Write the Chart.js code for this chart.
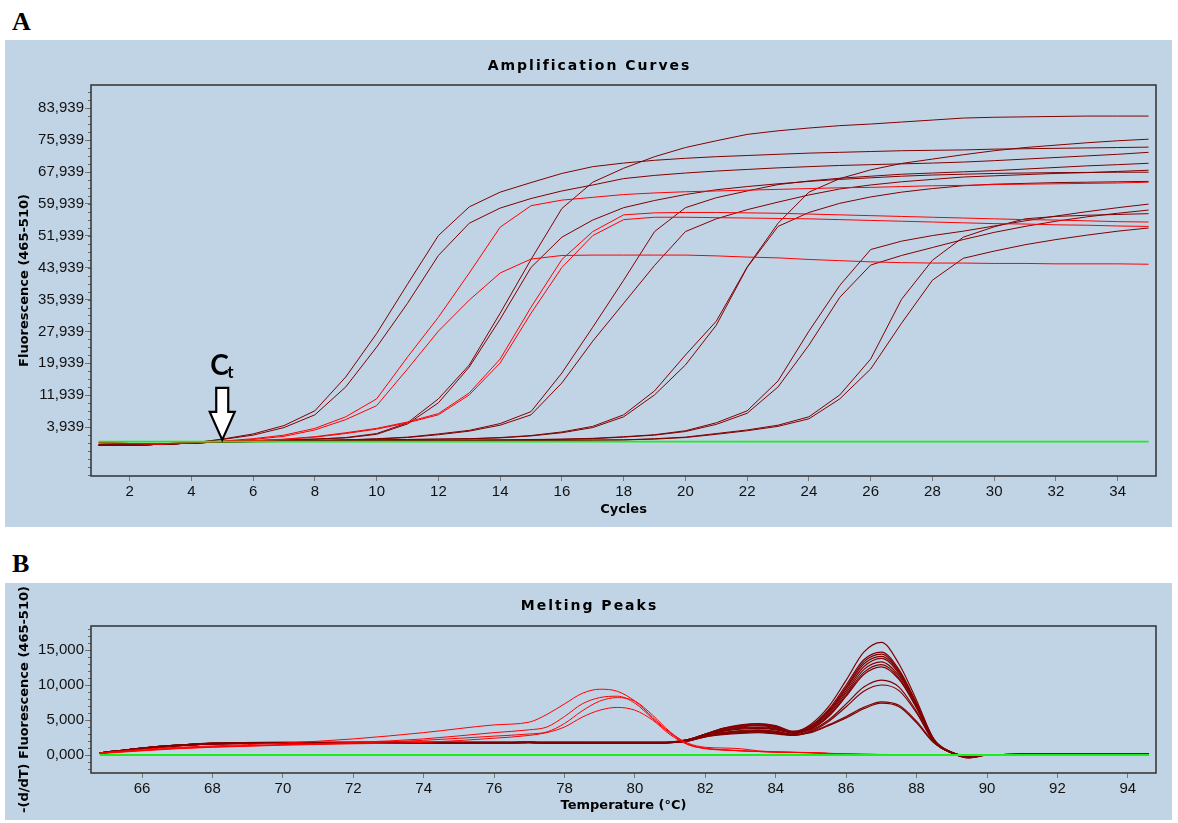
<!DOCTYPE html>
<html>
<head>
<meta charset="utf-8">
<title>Amplification Curves / Melting Peaks</title>
<script src="https://cdn.jsdelivr.net/npm/chart.js"></script>
<style>
  body { margin: 0; background: #fff; width: 1178px; height: 823px; position: relative; overflow: hidden; }
  .panel { position: absolute; left: 5px; width: 1167px; background: #c1d4e5; }
  .panel canvas { display: block; }
  #panelA { top: 40px; height: 487px; }
  #panelB { top: 583px; height: 237px; }
  .tag { position: absolute; left: 12px; font: bold 26px "Liberation Serif", serif; line-height: 30px; }
</style>
</head>
<body>
<div class="tag" style="top:7px">A</div>
<div class="panel" id="panelA"><canvas id="ampChart" width="1167" height="487"></canvas></div>
<div class="tag" style="top:549px">B</div>
<div class="panel" id="panelB"><canvas id="meltChart" width="1167" height="237"></canvas></div>

<script>
// ---------- A: amplification curves, fluorescence per cycle ----------
const cycles = [1,2,3,4,5,6,7,8,9,10,11,12,13,14,15,16,17,18,19,20,21,22,23,24,25,26,27,28,29,30,31,32,33,34,35];

const ampG1a = [-600,-650,-400,-100,900,2200,4300,8000,16500,27400,39800,52000,59200,62900,65300,67600,69300,70200,70900,71400,71800,72100,72400,72700,72900,73100,73300,73400,73500,73700,73800,73900,74000,74100,74200];
const ampG1b = [-600,-650,-400,-100,800,1900,3800,7000,14000,24000,35000,47000,55100,58900,61300,63200,64700,66300,67100,67700,68200,68600,69000,69300,69600,69800,70000,70200,70450,70800,71200,71600,72000,72400,72900];
const ampG2a = [0,-200,-300,0,400,1000,1900,3600,6500,11000,21500,31500,42600,54100,59500,60900,61600,62300,62700,63000,63200,63400,63600,63800,64000,64100,64300,64500,64600,64800,64900,65000,65100,65200,65400];
const ampG2b = [0,-200,-300,0,300,800,1600,3200,5800,9300,18500,28000,35800,42600,46100,47000,47100,47100,47100,47100,46900,46600,46400,46000,45700,45400,45200,45100,45100,45000,45000,44900,44900,44900,44800];
const ampG3a = [-600,-650,-400,-100,300,500,700,900,1300,2300,5000,11000,19500,32500,46000,58800,65400,68900,71800,74100,75800,77400,78300,79000,79600,80000,80500,81000,81500,81700,81800,81900,82000,82000,82000];
const ampG3b = [-600,-650,-400,-100,300,500,700,900,1200,2100,4700,10000,19000,31000,44000,51600,55900,59000,60800,62300,63500,64300,65000,65600,66100,66500,66900,67200,67400,67600,67700,67800,67850,67900,67900];
const ampG4a = [0,-200,-300,100,300,500,900,1500,2500,3600,5200,7300,12500,21000,34000,46000,53000,57200,57700,57800,57800,57700,57600,57400,57200,57000,56800,56600,56400,56200,56000,55900,55700,55500,55400];
const ampG4b = [0,-200,-300,100,300,500,800,1400,2300,3400,5000,7000,12000,20000,32500,44000,52000,56000,56600,56600,56500,56400,56300,56200,56000,55800,55600,55400,55200,55000,54900,54700,54600,54400,54300];
const ampG5a = [-600,-650,-400,-100,300,400,500,600,700,1000,1400,2200,3100,4800,7800,17500,29000,40800,53000,59000,61500,63200,64800,65700,66400,66900,67400,67700,68000,68300,68700,69100,69500,69800,70150];
const ampG5b = [-600,-650,-400,-100,300,400,500,600,700,900,1300,2000,2900,4400,7000,15000,25500,35000,44500,53000,56200,58500,60400,62200,63700,64700,65500,66100,66700,67000,67300,67600,67800,68100,68400];
const ampG6a = [-600,-650,-400,-100,200,300,400,500,600,700,800,900,1000,1300,1800,2700,4100,7000,13000,22000,30500,44100,55100,62900,66300,68500,70100,71200,72300,73300,74100,74700,75300,75800,76200];
const ampG6b = [-600,-650,-400,-100,200,300,400,500,600,700,800,900,1000,1200,1700,2500,3800,6500,12000,19500,29500,44000,54300,57800,60100,61700,62900,63800,64500,64900,65100,65300,65400,65500,65600];
const ampG7a = [-600,-650,-400,-100,200,300,350,400,450,500,550,600,650,700,800,900,1100,1500,2000,3000,5000,8000,15500,28000,39500,48500,50600,52000,53100,54400,55700,56900,58000,59000,59900];
const ampG7b = [-600,-650,-400,-100,200,300,350,400,450,500,550,600,650,700,750,850,1000,1400,1900,2800,4600,7400,14000,24500,36500,44600,47000,49000,51000,52800,54300,55600,56700,57600,58400];
const ampG8a = [-600,-650,-400,-100,200,250,300,350,400,400,450,450,500,500,550,600,650,700,1000,1400,2300,3200,4400,6500,12000,21000,36000,45800,51600,54200,56200,56800,57100,57300,57500];
const ampG8b = [-600,-650,-400,-100,200,250,300,350,400,400,450,450,500,500,550,600,650,700,900,1300,2100,3000,4100,6000,11000,18500,30000,40800,46300,48100,49700,51000,52100,53100,53900];

const ampRed = [ampG2a, ampG2b, ampG4a, ampG4b];
const ampDark = [ampG1a, ampG1b, ampG3a, ampG3b, ampG5a, ampG5b, ampG6a, ampG6b, ampG7a, ampG7b, ampG8a, ampG8b];

const ampGreenX = [1, 35];
const ampGreenY = [250, 250];

const ampXTicks = [2,4,6,8,10,12,14,16,18,20,22,24,26,28,30,32,34];
const ampYTicks = [3939,11939,19939,27939,35939,43939,51939,59939,67939,75939,83939];
const ctCycle = 5;
const ctValue = 700;

// ---------- B: melting peaks, -(d/dT) fluorescence per temperature ----------
const temps = [64.8,66,67,68,70,72,74,76,77,77.5,78,78.5,79,79.5,80,80.5,81,81.5,82,82.5,83,83.5,84,84.5,85,85.5,86,86.5,87,87.5,88,88.5,89,89.5,90,91,93,94.6];

const meltD1  = [300,1000,1400,1650,1750,1750,1750,1750,1800,1750,1750,1750,1750,1750,1750,1750,1800,2100,2800,3400,3800,3900,3700,3300,4400,6900,10700,14700,16100,13000,7800,2200,300,-300,0,100,100,100];
const meltD2  = [300,950,1350,1600,1700,1800,1800,1800,1850,1800,1800,1800,1800,1800,1800,1800,1850,2200,3000,3800,4300,4500,4200,3400,4200,6500,10000,13600,14700,12200,7400,2200,400,-200,0,100,100,100];
const meltD3  = [250,900,1300,1600,1700,1700,1750,1750,1800,1750,1750,1750,1700,1700,1700,1700,1750,2100,2900,3600,4000,4200,3900,3200,4100,6300,9700,13300,14400,12000,7300,2100,300,-400,0,100,100,100];
const meltD4  = [300,1000,1400,1700,1800,1800,1800,1800,1800,1800,1800,1800,1800,1800,1800,1800,1850,2200,3000,3700,4100,4300,4000,3300,4000,6200,9500,13000,14100,11800,7200,2100,300,-300,0,100,100,100];
const meltD5  = [250,950,1350,1600,1700,1700,1700,1700,1750,1700,1700,1700,1700,1700,1700,1700,1750,2000,2700,3200,3500,3600,3400,3000,3900,6000,9200,12600,13800,11600,7100,2000,300,-300,0,100,100,100];
const meltD6  = [300,1000,1400,1650,1750,1800,1800,1800,1850,1800,1800,1800,1800,1800,1800,1800,1800,2100,2800,3500,3900,4000,3800,3200,3800,5800,8900,12200,13300,11300,7000,2000,400,-200,0,100,100,100];
const meltD7  = [250,900,1300,1600,1700,1750,1750,1750,1800,1750,1750,1750,1750,1750,1750,1750,1800,2200,3000,3800,4200,4400,4100,3300,3700,5600,8600,11800,12900,11000,6800,1900,300,-300,0,100,100,100];
const meltD8  = [300,1000,1400,1700,1800,1800,1800,1800,1800,1800,1800,1800,1800,1800,1800,1800,1800,2100,2800,3400,3700,3800,3600,3100,3700,5500,8400,11500,12600,10800,6700,1900,300,-400,0,100,100,100];
const meltD9  = [250,950,1350,1600,1700,1700,1700,1700,1750,1700,1700,1700,1700,1700,1700,1700,1750,2000,2600,3000,3200,3300,3100,2800,3500,5000,7300,9700,10700,9700,6200,1900,400,-200,0,100,100,100];
const meltD10 = [300,1000,1400,1650,1750,1750,1750,1750,1800,1750,1750,1750,1750,1750,1750,1750,1800,2000,2700,3200,3400,3500,3300,2900,3400,4800,6900,9100,10000,9200,6000,1800,300,-300,0,100,100,100];
const meltD11 = [250,900,1300,1600,1700,1700,1700,1700,1750,1700,1700,1700,1700,1700,1700,1700,1750,2000,2600,2900,3100,3200,3000,2800,3300,4300,5500,6800,7600,7100,4800,1800,400,-200,0,100,100,100];
const meltD12 = [300,950,1350,1650,1750,1750,1750,1750,1800,1750,1750,1750,1750,1750,1750,1750,1800,2000,2700,3100,3300,3400,3200,2900,3200,4200,5300,6600,7400,6900,4600,1700,300,-300,0,100,100,100];

const meltR1 = [300,800,1100,1300,1700,2300,3200,4300,4700,5800,7300,8800,9400,9100,7700,5400,3200,1700,1100,1000,900,600,450,400,350,250,150,100,80,60,50,40,30,20,0,0,0,0];
const meltR2 = [250,700,1000,1200,1500,1800,2300,3200,3600,4000,5500,7300,8200,8400,7400,5200,3100,1500,950,750,600,500,420,370,320,220,130,90,70,50,40,30,20,10,0,0,0,0];
const meltR3 = [250,650,950,1150,1450,1700,2100,2700,3000,3300,4500,6300,7700,8200,7700,5700,3300,1600,950,750,600,500,420,370,320,220,130,90,70,50,40,30,20,10,0,0,0,0];
const meltR4 = [200,600,900,1100,1400,1600,1800,2400,2800,3200,4000,5400,6400,6800,6400,5000,2900,1500,900,700,600,500,420,370,320,220,130,90,70,50,40,30,20,10,0,0,0,0];

const meltDark = [meltD1, meltD2, meltD3, meltD4, meltD5, meltD6, meltD7, meltD8, meltD9, meltD10, meltD11, meltD12];
const meltRed = [meltR1, meltR2, meltR3, meltR4];

const meltGreenX = [64.8, 94.6];
const meltGreenY = [0, 0];

const meltXTicks = [66,68,70,72,74,76,78,80,82,84,86,88,90,92,94];
const meltYTicks = [0,5000,10000,15000];

// ---------- drawing ----------
const DARK = '#800000', RED = '#ff0000', GREEN = '#19f019';
const TICK_FONT = { family: 'Liberation Sans', size: 15 };

function series(xs, ys, color, width, smooth) {
    return {
        data: xs.map((x, i) => ({ x: x, y: ys[i] })),
        borderColor: color,
        borderWidth: width,
        pointRadius: 0,
        fill: false,
        tension: 0,
        cubicInterpolationMode: smooth ? 'monotone' : 'default'
    };
}

// titles and axis titles (drawn here so the long y title is not squeezed)
const panelText = {
    id: 'panelText',
    afterDraw(chart, args, o) {
        const { ctx, chartArea: a, width } = chart;
        ctx.save();
        ctx.fillStyle = '#000';
        ctx.textAlign = 'center';
        ctx.textBaseline = 'middle';
        ctx.font = 'bold 14px "DejaVu Sans"';
        ctx.letterSpacing = '2px';
        ctx.fillText(o.title, width / 2 + 1, o.titleY);
        ctx.letterSpacing = '0px';
        ctx.font = 'bold 13px "DejaVu Sans"';
        ctx.fillText(o.xTitle, (a.left + a.right) / 2, o.xTitleY);
        ctx.translate(o.yTitleX, (a.top + a.bottom) / 2);
        ctx.rotate(-Math.PI / 2);
        ctx.fillText(o.yTitle, 0, 0);
        ctx.restore();
    }
};

// small ticks between the labelled ones + frame round the plot
const frameAndMinor = {
    id: 'frameAndMinor',
    afterDraw(chart, args, o) {
        const { ctx, chartArea: a } = chart;
        const y = chart.scales.y;
        ctx.save();
        ctx.strokeStyle = '#666';
        ctx.lineWidth = 1;
        ctx.beginPath();
        for (let v = o.start; v <= y.max; v += o.step) {
            if (v < y.min) continue;
            const p = Math.round(y.getPixelForValue(v)) + 0.5;
            ctx.moveTo(a.left - 3, p);
            ctx.lineTo(a.left, p);
        }
        ctx.stroke();
        ctx.strokeStyle = '#3a3a3a';
        ctx.lineWidth = 1.6;
        ctx.strokeRect(a.left, a.top, a.right - a.left, a.bottom - a.top);
        ctx.restore();
    }
};

// Ct arrow, anchored on the data scale
const ctMarker = {
    id: 'ctMarker',
    afterDatasetsDraw(chart, args, o) {
        if (!o.show) return;
        const { ctx, scales: { x, y } } = chart;
        const tx = x.getPixelForValue(ctCycle), ty = y.getPixelForValue(ctValue);
        ctx.save();
        ctx.beginPath();
        ctx.moveTo(tx, ty);
        ctx.lineTo(tx - 12.5, ty - 28);
        ctx.lineTo(tx - 6, ty - 28);
        ctx.lineTo(tx - 6, ty - 52);
        ctx.lineTo(tx + 6, ty - 52);
        ctx.lineTo(tx + 6, ty - 28);
        ctx.lineTo(tx + 12.5, ty - 28);
        ctx.closePath();
        ctx.fillStyle = '#fff';
        ctx.fill();
        ctx.lineWidth = 2.2;
        ctx.strokeStyle = '#000';
        ctx.stroke();
        ctx.fillStyle = '#000';
        ctx.textBaseline = 'alphabetic';
        ctx.font = 'bold 28px Lato';
        ctx.fillText('C', tx - 12, ty - 65);
        ctx.font = 'bold 17px Lato';
        ctx.fillText('t', tx + 5, ty - 62);
        ctx.restore();
    }
};

function fmt(v) {
    return v === 0 ? '0,000' : v.toLocaleString('en-US');
}

function makeChart(id, cfg) {
    const datasets = [series(cfg.greenX, cfg.greenY, GREEN, 1.8, cfg.smooth)];
    cfg.red.forEach(s => datasets.push(series(cfg.xs, s, RED, 1, cfg.smooth)));
    cfg.dark.forEach(s => datasets.push(series(cfg.xs, s, DARK, cfg.darkWidth, cfg.smooth)));

    return new Chart(document.getElementById(id), {
        type: 'line',
        data: { datasets: datasets },
        options: {
            responsive: false,
            animation: false,
            devicePixelRatio: 1,
            layout: { padding: { top: cfg.padTop, right: 16, bottom: 0, left: 0 } },
            scales: {
                x: {
                    type: 'linear',
                    min: cfg.xMin,
                    max: cfg.xMax,
                    afterBuildTicks: s => { s.ticks = cfg.xTicks.map(v => ({ value: v })); },
                    afterFit: s => { s.height = cfg.xHeight; },
                    ticks: { font: TICK_FONT, color: '#111', padding: 2, maxRotation: 0, autoSkip: false },
                    grid: { drawOnChartArea: false, drawTicks: true, tickLength: 5, color: '#777' },
                    border: { display: false }
                },
                y: {
                    type: 'linear',
                    min: cfg.yMin,
                    max: cfg.yMax,
                    afterBuildTicks: s => { s.ticks = cfg.yTicks.map(v => ({ value: v })); },
                    afterFit: s => { s.width = 86; },
                    ticks: { font: TICK_FONT, color: '#111', padding: 1, callback: v => fmt(v) },
                    grid: { drawOnChartArea: false, drawTicks: true, tickLength: 6, color: '#777' },
                    border: { display: false }
                }
            },
            plugins: {
                legend: { display: false },
                tooltip: { enabled: false },
                panelText: cfg.text,
                frameAndMinor: cfg.minor,
                ctMarker: { show: cfg.ct }
            }
        },
        plugins: [panelText, frameAndMinor, ctMarker]
    });
}

makeChart('ampChart', {
    xs: cycles, red: ampRed, dark: ampDark,
    greenX: ampGreenX, greenY: ampGreenY, smooth: false, darkWidth: 1,
    xMin: 0.75, xMax: 35.24, yMin: -8360, yMax: 89800,
    xTicks: ampXTicks, yTicks: ampYTicks,
    padTop: 45, xHeight: 51, ct: true,
    minor: { start: -8061, step: 2000 },
    text: { title: 'Amplification Curves', titleY: 26, xTitle: 'Cycles', xTitleY: 470,
            yTitle: 'Fluorescence (465-510)', yTitleX: 20 }
});

makeChart('meltChart', {
    xs: temps, red: meltRed, dark: meltDark,
    greenX: meltGreenX, greenY: meltGreenY, smooth: true, darkWidth: 1.2,
    xMin: 64.55, xMax: 94.8, yMin: -2570, yMax: 18430,
    xTicks: meltXTicks, yTicks: meltYTicks,
    padTop: 43, xHeight: 47, ct: false,
    minor: { start: -2000, step: 1000 },
    text: { title: 'Melting Peaks', titleY: 23, xTitle: 'Temperature (°C)', xTitleY: 223,
            yTitle: '-(d/dT) Fluorescence (465-510)', yTitleX: 20 }
});
</script>
</body>
</html>
